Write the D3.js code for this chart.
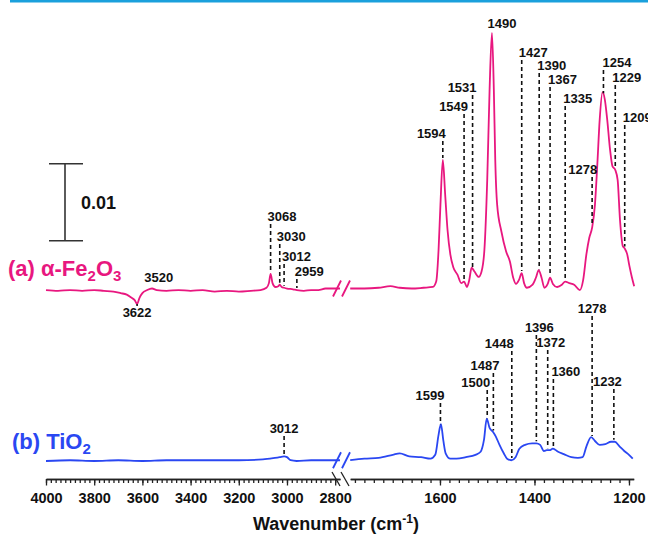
<!DOCTYPE html>
<html>
<head>
<meta charset="utf-8">
<script src="https://cdn.jsdelivr.net/npm/d3@7"></script>
<style>
  body { margin: 0; background: #fff; }
  text { font-family: "Liberation Sans", Arial, sans-serif; font-weight: bold; }
</style>
</head>
<body>
<svg id="chart"></svg>
<script>
// spectrum (a) alpha-Fe2O3, absorbance relative to its own baseline
var specA_high = [
  [4000, 0.0001], [3950, 0], [3900, 0.0001], [3850, 0], [3800, 0.0001], [3760, 0],
  [3720, -0.0001], [3690, -0.0003], [3665, -0.0005], [3645, -0.0009], [3632, -0.0012],
  [3622, -0.0017], [3612, -0.0009], [3600, -0.0003], [3580, 0.0001], [3560, 0.0003],
  [3540, 0.0001], [3500, 0], [3450, 0.0001], [3400, 0], [3350, 0.0001], [3300, -0.0001],
  [3250, 0], [3200, -0.0001], [3150, 0], [3110, 0.0001], [3085, 0.0004], [3075, 0.0010],
  [3068, 0.0022], [3060, 0.0010], [3048, 0.0005], [3036, 0.0006], [3030, 0.0008],
  [3022, 0.0005], [3012, 0.0004], [3000, 0.0003], [2975, 0.0002], [2959, 0.0001],
  [2930, 0], [2900, 0.0001], [2870, 0.0001], [2840, 0.0003], [2810, 0.0003], [2780, 0.0003]
];
var specA_low = [
  [1790, 0.0003], [1760, 0.0003], [1730, 0.0004], [1705, 0.0006], [1685, 0.0004],
  [1660, 0.0003], [1635, 0.0004], [1615, 0.0005], [1608, 0.0012], [1603, 0.0053],
  [1599, 0.0112], [1594, 0.0170], [1589, 0.0125], [1584, 0.0079], [1578, 0.0047],
  [1572, 0.0031], [1563, 0.0021], [1555, 0.0010], [1549, 0.0012], [1543, 0.0005],
  [1538, 0.0014], [1533, 0.0030], [1527, 0.0025], [1518, 0.0018], [1512, 0.0025],
  [1506, 0.0053], [1500, 0.0144], [1495, 0.0261], [1490, 0.0335], [1486, 0.0261],
  [1483, 0.0170], [1479, 0.0112], [1470, 0.0077], [1460, 0.0051], [1452, 0.0038],
  [1445, 0.0017], [1439, 0.0009], [1433, 0.0014], [1427, 0.0023], [1422, 0.0010],
  [1416, 0.0004], [1404, 0.0008], [1397, 0.0017], [1391, 0.0027], [1385, 0.0017],
  [1379, 0.0004], [1372, 0.0009], [1367, 0.0017], [1361, 0.0009], [1352, 0.0005],
  [1342, 0.0008], [1335, 0.0012], [1326, 0.0010], [1316, 0.0008], [1304, 0.0001],
  [1297, 0.0014], [1290, 0.0048], [1284, 0.0069], [1278, 0.0082], [1272, 0.0112],
  [1267, 0.0164], [1262, 0.0222], [1256, 0.0258], [1251, 0.0248], [1246, 0.0222],
  [1240, 0.0183], [1235, 0.0162], [1229, 0.0157], [1224, 0.0144], [1219, 0.0092],
  [1213, 0.0058], [1209, 0.0055], [1204, 0.0048], [1199, 0.0032], [1194, 0.0018],
  [1189, 0.0006]
];
// spectrum (b) TiO2
var specB_high = [
  [4000, 0], [3900, 0.0001], [3800, 0], [3700, 0.0001], [3600, 0], [3500, 0.0001],
  [3400, 0.0001], [3300, 0.0001], [3200, 0.0001], [3100, 0.0002], [3050, 0.0004],
  [3030, 0.0005], [3012, 0.0006], [3000, 0.0005], [2985, 0.0001], [2960, 0],
  [2900, 0.0001], [2850, 0.0001], [2780, 0.0001]
];
var specB_low = [
  [1790, 0.0001], [1760, 0.0003], [1730, 0.0004], [1700, 0.0008], [1685, 0.0010],
  [1665, 0.0006], [1640, 0.0005], [1620, 0.0003], [1610, 0.0008], [1603, 0.0034],
  [1598, 0.0048], [1593, 0.0027], [1588, 0.0010], [1578, 0.0003], [1565, 0.0003],
  [1545, 0.0005], [1525, 0.0008], [1514, 0.0012], [1507, 0.0027], [1501, 0.0055],
  [1495, 0.0043], [1488, 0.0038], [1482, 0.0032], [1474, 0.0021], [1465, 0.0010],
  [1458, 0.0003], [1449, 0.0001], [1440, 0.0005], [1432, 0.0016], [1420, 0.0021],
  [1405, 0.0023], [1396, 0.0023], [1388, 0.0021], [1380, 0.0013], [1374, 0.0014],
  [1368, 0.0014], [1361, 0.0016], [1350, 0.0012], [1338, 0.0009], [1322, 0.0005],
  [1308, 0.0004], [1298, 0.0005], [1290, 0.0019], [1280, 0.0031], [1272, 0.0026],
  [1262, 0.0021], [1250, 0.0022], [1238, 0.0025], [1230, 0.0025], [1220, 0.0019],
  [1210, 0.0013], [1200, 0.0008], [1192, 0.0003]
];

// peak labels
var peaksA = [3622, 3520, 3068, 3030, 3012, 2959, 1594, 1549, 1531, 1490,
              1427, 1390, 1367, 1335, 1278, 1254, 1229, 1209];
var peaksB = [3012, 1599, 1500, 1487, 1448, 1396, 1372, 1360, 1278, 1232];

var ticksHigh = [4000, 3800, 3600, 3400, 3200, 3000, 2800];
var ticksLow = [1600, 1400, 1200];

// label placement: [label centre y, anchor, dx, dashed]
var layoutA = [
  [312, "middle", 0, "down"], [277, "middle", -3, ""], [216, "start", -3, "up"],
  [236, "start", -3, "up"], [256, "start", -2, "up"], [271, "start", -2, "up"],
  [133, "end", 3, "up"], [106, "end", 4, "up"], [87, "end", 4, "up"],
  [23, "middle", 10, ""], [52, "start", -3, "up"], [65, "start", -2, "up"],
  [79, "start", -2, "up"], [98, "start", -2, "up"], [169, "end", 5, "up"],
  [62, "start", -1, "up"], [77, "start", -3, "up"], [117, "start", -2, "up"]
];
var layoutB = [
  [428, "middle", 0, "up"], [395, "end", 4, "up"], [382, "end", 3, "up"],
  [365, "end", 6, "up"], [343, "end", 2, "up"], [327, "middle", 3, "up"],
  [342, "middle", 3, "up"], [371, "start", -2, "up"], [308, "middle", 0, "up"],
  [381, "end", 8, "up"]
];

var width = 648, height = 539;
var pink = "#e8177f", blue = "#2a47f2";
var offsetA = 0.0221;

var xHigh = d3.scaleLinear().domain([4000, 2780]).range([46, 340]);
var xLow = d3.scaleLinear().domain([1790, 1190]).range([350.2, 633.7]);
var y = d3.scaleLinear().domain([0, 0.01]).range([461, 384]);

function xOf(wn) { return wn > 2000 ? xHigh(wn) : xLow(wn); }

function valueAt(spec, wn) {
  for (var i = 0; i < spec.length - 1; i++) {
    var a = spec[i], b = spec[i + 1];
    if (wn <= a[0] && wn >= b[0]) {
      var t = (a[0] - wn) / (a[0] - b[0]);
      return a[1] + t * (b[1] - a[1]);
    }
  }
  return 0;
}

var svg = d3.select("#chart").attr("width", width).attr("height", height);
svg.append("rect").attr("width", width).attr("height", height).attr("fill", "#fff");

// top rule
svg.append("rect").attr("x", 10).attr("y", 0).attr("width", width - 10).attr("height", 2.5)
  .attr("fill", "#1aa0dc");

// spectra
function drawSpec(spec, xs, offset, color) {
  var line = d3.line()
    .x(function(d) { return xs(d[0]); })
    .y(function(d) { return y(d[1] + offset); })
    .curve(d3.curveMonotoneX);
  svg.append("path").datum(spec).attr("d", line)
    .attr("fill", "none").attr("stroke", color).attr("stroke-width", 1.8);
}
drawSpec(specA_high, xHigh, offsetA, pink);
drawSpec(specA_low, xLow, offsetA, pink);
drawSpec(specB_high, xHigh, 0, blue);
drawSpec(specB_low, xLow, 0, blue);

// break marks on the spectra
function breakMark(yc, color, dir) {
  [337, 346].forEach(function(xc) {
    svg.append("line")
      .attr("x1", xc - 4).attr("y1", yc + 8 * dir)
      .attr("x2", xc + 4).attr("y2", yc - 8 * dir)
      .attr("stroke", color).attr("stroke-width", 1.8);
  });
}
breakMark(y(valueAt(specA_high, 2780) + offsetA), pink, 1);
breakMark(y(valueAt(specB_high, 2780)), blue, 1);

// peak labels with dashed leaders
function drawPeaks(peaks, layout, spec1, spec2, offset) {
  peaks.forEach(function(wn, i) {
    var L = layout[i];
    var px = xOf(wn);
    var spec = wn > 2000 ? spec1 : spec2;
    var cy = y(valueAt(spec, wn) + offset);
    svg.append("text")
      .attr("x", px + L[2]).attr("y", L[0]).attr("dy", "0.35em")
      .attr("text-anchor", L[1])
      .attr("font-size", 13).attr("fill", "#111")
      .text(wn);
    if (L[3] === "up") {
      svg.append("line").attr("x1", px).attr("x2", px)
        .attr("y1", L[0] + 8).attr("y2", cy - 2)
        .attr("stroke", "#111").attr("stroke-width", 1.6).attr("stroke-dasharray", "4,3");
    } else if (L[3] === "down") {
      svg.append("line").attr("x1", px).attr("x2", px)
        .attr("y1", cy + 2).attr("y2", L[0] - 8)
        .attr("stroke", "#111").attr("stroke-width", 1.6).attr("stroke-dasharray", "4,3");
    }
  });
}
drawPeaks(peaksA, layoutA, specA_high, specA_low, offsetA);
drawPeaks(peaksB, layoutB, specB_high, specB_low, 0);

// series names
var nameA = svg.append("text").attr("x", 8).attr("y", 276).attr("font-size", 22).attr("fill", pink);
nameA.append("tspan").text("(a) \u03b1-Fe");
nameA.append("tspan").attr("font-size", 15).attr("dy", 5).text("2");
nameA.append("tspan").attr("dy", -5).text("O");
nameA.append("tspan").attr("font-size", 15).attr("dy", 5).text("3");

var nameB = svg.append("text").attr("x", 12).attr("y", 449).attr("font-size", 22).attr("fill", blue);
nameB.append("tspan").text("(b) TiO");
nameB.append("tspan").attr("font-size", 15).attr("dy", 5).text("2");

// scale bar 0.01
var barBase = 0.0286;
var g = svg.append("g").attr("stroke", "#333").attr("stroke-width", 1.6);
g.append("line").attr("x1", 65).attr("x2", 65).attr("y1", y(barBase)).attr("y2", y(barBase + 0.01));
g.append("line").attr("x1", 49).attr("x2", 83).attr("y1", y(barBase)).attr("y2", y(barBase));
g.append("line").attr("x1", 49).attr("x2", 83).attr("y1", y(barBase + 0.01)).attr("y2", y(barBase + 0.01));
svg.append("text").attr("x", 81).attr("y", y(barBase + 0.005)).attr("dy", "0.35em")
  .attr("font-size", 18).attr("fill", "#111").text("0.01");

// x axes
var axisY = 479;
function drawAxis(xs, majors, minors) {
  var minor = svg.append("g").attr("transform", "translate(0," + axisY + ")")
    .call(d3.axisBottom(xs).tickValues(minors).tickSize(4).tickSizeOuter(0).tickFormat(""));
  var major = svg.append("g").attr("transform", "translate(0," + axisY + ")")
    .call(d3.axisBottom(xs).tickValues(majors).tickSize(6.5).tickSizeOuter(0).tickPadding(7)
      .tickFormat(d3.format("d")));
  [minor, major].forEach(function(a) {
    a.selectAll("path,line").attr("stroke", "#222").attr("stroke-width", 1.3);
  });
  major.selectAll("text").attr("font-size", 14.5).attr("fill", "#111")
    .style("font-family", '"Liberation Sans", Arial, sans-serif').style("font-weight", "bold");
}
drawAxis(xHigh, ticksHigh, d3.range(4000, 2780, -20));
drawAxis(xLow, ticksLow, d3.range(1780, 1190, -20));

// axis break
[336, 345].forEach(function(xc) {
  svg.append("line").attr("x1", xc - 4).attr("y1", axisY - 7).attr("x2", xc + 4).attr("y2", axisY + 7)
    .attr("stroke", "#222").attr("stroke-width", 1.3);
});

// axis title
var title = svg.append("text").attr("x", 336).attr("y", 530).attr("text-anchor", "middle")
  .attr("font-size", 18).attr("fill", "#111");
title.append("tspan").text("Wavenumber (cm");
title.append("tspan").attr("font-size", 12).attr("dy", -7).text("-1");
title.append("tspan").attr("dy", 7).text(")");
</script>
</body>
</html>
